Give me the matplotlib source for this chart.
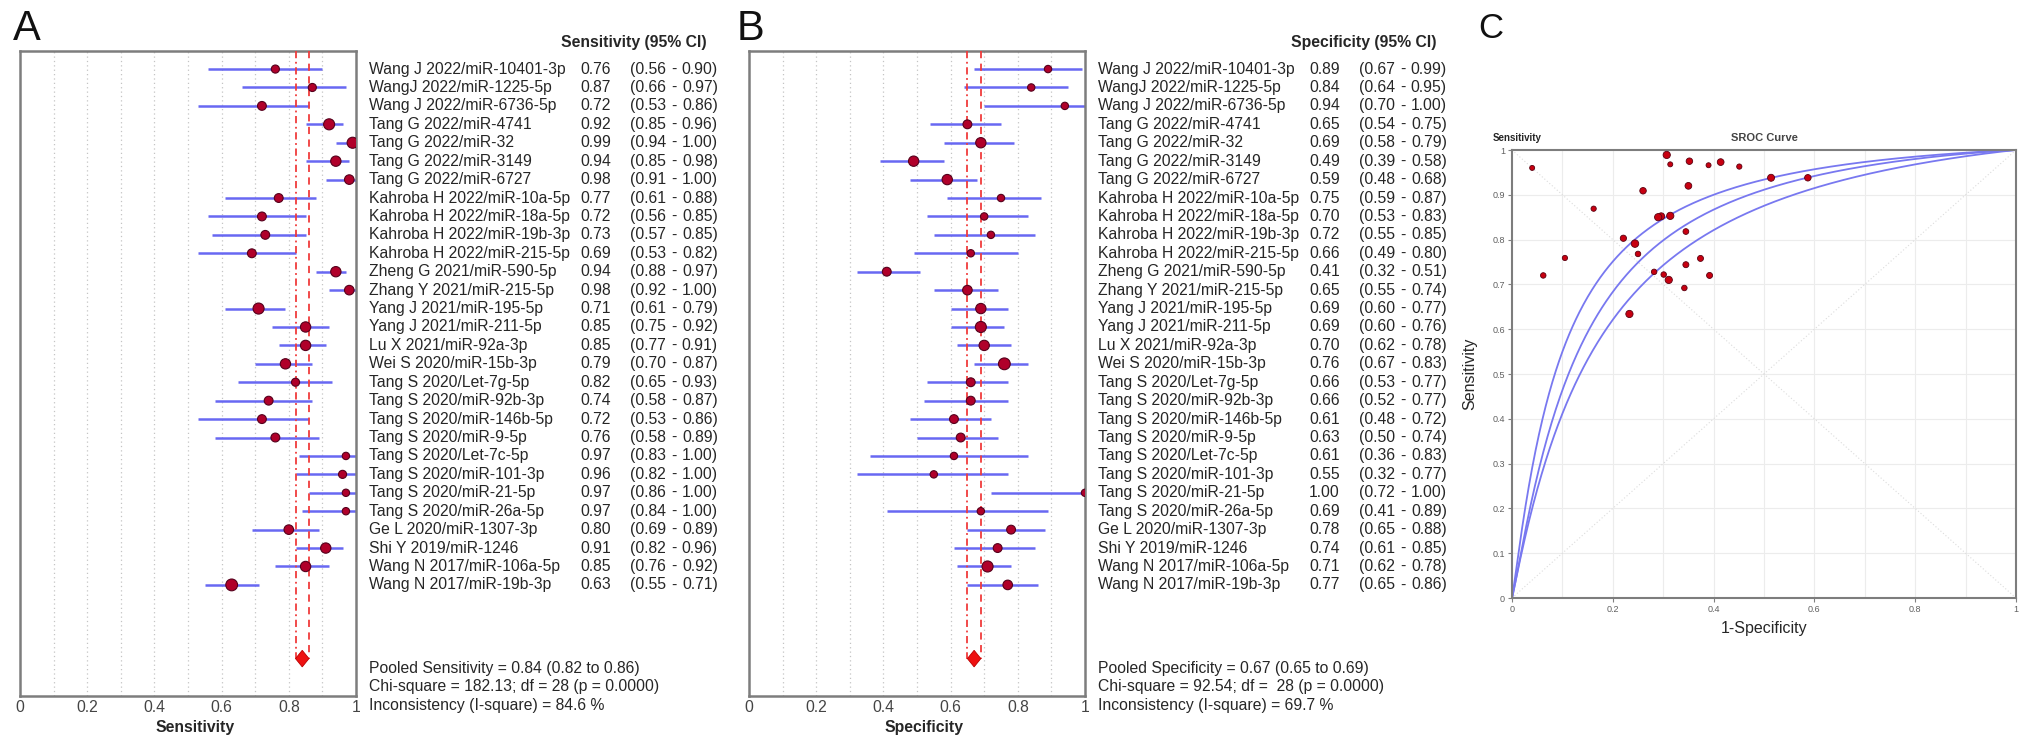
import numpy as np
import matplotlib
matplotlib.use("Agg")
import matplotlib.pyplot as plt

plt.rcParams['font.family'] = ['Liberation Sans', 'DejaVu Sans']

# ---------------- data ----------------
studies = [
    "Wang J 2022/miR-10401-3p", "WangJ 2022/miR-1225-5p", "Wang J 2022/miR-6736-5p",
    "Tang G 2022/miR-4741", "Tang G 2022/miR-32", "Tang G 2022/miR-3149", "Tang G 2022/miR-6727",
    "Kahroba H 2022/miR-10a-5p", "Kahroba H 2022/miR-18a-5p", "Kahroba H 2022/miR-19b-3p",
    "Kahroba H 2022/miR-215-5p", "Zheng G 2021/miR-590-5p", "Zhang Y 2021/miR-215-5p",
    "Yang J 2021/miR-195-5p", "Yang J 2021/miR-211-5p", "Lu X 2021/miR-92a-3p",
    "Wei S 2020/miR-15b-3p", "Tang S 2020/Let-7g-5p", "Tang S 2020/miR-92b-3p",
    "Tang S 2020/miR-146b-5p", "Tang S 2020/miR-9-5p", "Tang S 2020/Let-7c-5p",
    "Tang S 2020/miR-101-3p", "Tang S 2020/miR-21-5p", "Tang S 2020/miR-26a-5p",
    "Ge L 2020/miR-1307-3p", "Shi Y 2019/miR-1246", "Wang N 2017/miR-106a-5p",
    "Wang N 2017/miR-19b-3p",
]

sens = [0.76, 0.87, 0.72, 0.92, 0.99, 0.94, 0.98, 0.77, 0.72, 0.73, 0.69, 0.94, 0.98, 0.71, 0.85,
        0.85, 0.79, 0.82, 0.74, 0.72, 0.76, 0.97, 0.96, 0.97, 0.97, 0.80, 0.91, 0.85, 0.63]
sens_lo = [0.56, 0.66, 0.53, 0.85, 0.94, 0.85, 0.91, 0.61, 0.56, 0.57, 0.53, 0.88, 0.92, 0.61, 0.75,
           0.77, 0.70, 0.65, 0.58, 0.53, 0.58, 0.83, 0.82, 0.86, 0.84, 0.69, 0.82, 0.76, 0.55]
sens_hi = [0.90, 0.97, 0.86, 0.96, 1.00, 0.98, 1.00, 0.88, 0.85, 0.85, 0.82, 0.97, 1.00, 0.79, 0.92,
           0.91, 0.87, 0.93, 0.87, 0.86, 0.89, 1.00, 1.00, 1.00, 1.00, 0.89, 0.96, 0.92, 0.71]
sens_weight = [11, 11, 12, 15, 15, 14, 13, 12, 12, 12, 12, 14, 13, 15, 14, 14, 14, 11, 12, 12, 12,
               10, 11, 10, 10, 13, 14, 14, 16]

spec = [0.89, 0.84, 0.94, 0.65, 0.69, 0.49, 0.59, 0.75, 0.70, 0.72, 0.66, 0.41, 0.65, 0.69, 0.69,
        0.70, 0.76, 0.66, 0.66, 0.61, 0.63, 0.61, 0.55, 1.00, 0.69, 0.78, 0.74, 0.71, 0.77]
spec_lo = [0.67, 0.64, 0.70, 0.54, 0.58, 0.39, 0.48, 0.59, 0.53, 0.55, 0.49, 0.32, 0.55, 0.60, 0.60,
           0.62, 0.67, 0.53, 0.52, 0.48, 0.50, 0.36, 0.32, 0.72, 0.41, 0.65, 0.61, 0.62, 0.65]
spec_hi = [0.99, 0.95, 1.00, 0.75, 0.79, 0.58, 0.68, 0.87, 0.83, 0.85, 0.80, 0.51, 0.74, 0.77, 0.76,
           0.78, 0.83, 0.77, 0.77, 0.72, 0.74, 0.83, 0.77, 1.00, 0.89, 0.88, 0.85, 0.78, 0.86]
spec_weight = [10, 10, 10, 12, 14, 14, 14, 10, 10, 10, 10, 12, 13, 14, 15, 14, 16, 12, 12, 12, 12,
               10, 10, 10, 10, 12, 12, 15, 13]

pooled_sens = (0.84, 0.82, 0.86)
pooled_spec = (0.67, 0.65, 0.69)
stats_sens = ["Pooled Sensitivity = 0.84 (0.82 to 0.86)",
              "Chi-square = 182.13; df = 28 (p = 0.0000)",
              "Inconsistency (I-square) = 84.6 %"]
stats_spec = ["Pooled Specificity = 0.67 (0.65 to 0.69)",
              "Chi-square = 92.54; df =  28 (p = 0.0000)",
              "Inconsistency (I-square) = 69.7 %"]

# SROC panel: study points (1-specificity, sensitivity) as plotted
sroc_fpr = [0.105, 0.162, 0.062, 0.350, 0.307, 0.514, 0.414, 0.250, 0.301, 0.282, 0.342, 0.587,
            0.352, 0.311, 0.314, 0.296, 0.244, 0.345, 0.345, 0.392, 0.374, 0.390, 0.451, 0.040,
            0.314, 0.221, 0.260, 0.290, 0.233]
sroc_tpr = [0.759, 0.869, 0.720, 0.920, 0.989, 0.938, 0.973, 0.768, 0.722, 0.728, 0.692, 0.938,
            0.975, 0.710, 0.853, 0.852, 0.791, 0.818, 0.744, 0.720, 0.758, 0.966, 0.963, 0.960,
            0.968, 0.803, 0.909, 0.850, 0.634]
# SROC curves (upper, central, lower): logit(TPR) = c + m * logit(FPR)
sroc_c = [2.65, 2.33, 1.95]
sroc_m = [1.115, 1.126, 1.05]

# ---------------- styling ----------------
W, H = 2031, 749
TXT = '#262626'
FRAME = '#7d7d7d'
BLUE = '#6868f2'
DOT_FACE = '#b0002a'
DOT_EDGE = '#55001c'
RED = '#f03c3c'
FS = 11.3

fig = plt.figure(figsize=(W / 100, H / 100), dpi=100)


def px_axes(left, top, right, bottom):
    return fig.add_axes([left / W, 1 - bottom / H, (right - left) / W, (bottom - top) / H])


def forest(ax, est, lo, hi, weight, pooled, header, xlabel, stats):
    n = len(est)
    y = np.arange(n)
    p, plo, phi = pooled
    ax.set_xlim(0, 1)
    ax.set_ylim(34.03, -0.98)
    for gx in np.arange(0.1, 1.0, 0.1):
        ax.axvline(gx, color='#c4c4c4', lw=0.9, ls=(0, (1, 2.5)), zorder=1)
    ax.hlines(y, lo, hi, color=BLUE, lw=1.8, zorder=2)
    dia_y = n + 3
    ax.plot([plo, plo], [-0.98, dia_y], color=RED, lw=1.3, ls=(0, (4, 2, 1, 2)), zorder=3)
    ax.plot([phi, phi], [-0.98, dia_y], color=RED, lw=1.3, ls=(0, (4, 3)), zorder=3)
    sizes = (0.53 * np.asarray(weight)) ** 2
    ax.scatter(est, y, s=sizes, c=DOT_FACE, edgecolors=DOT_EDGE, linewidths=0.8, zorder=4)
    ax.fill([plo, p, phi, p], [dia_y, dia_y - 0.45, dia_y, dia_y + 0.45],
            color='#ee1111', ec='#bb0000', lw=0.6, zorder=5)
    ax.set_xticks([0, 0.2, 0.4, 0.6, 0.8, 1.0])
    ax.set_xticklabels(['0', '0.2', '0.4', '0.6', '0.8', '1'])
    ax.tick_params(axis='x', length=0, pad=3, labelsize=FS, labelcolor='#444444')
    ax.set_yticks([])
    for s in ax.spines.values():
        s.set_color(FRAME)
        s.set_linewidth(1.8)
    ax.text(0.52, 35.75, xlabel, ha='center', va='center', fontsize=FS, fontweight='bold',
            color=TXT, clip_on=False)
    for i in range(n):
        ax.text(1.04, i, studies[i], ha='left', va='center', fontsize=FS, color=TXT, clip_on=False)
        ax.text(1.667, i, f"{est[i]:.2f}", ha='left', va='center', fontsize=FS, color=TXT,
                clip_on=False)
        ax.text(1.815, i, f"({lo[i]:.2f}", ha='left', va='center', fontsize=FS, color=TXT,
                clip_on=False)
        ax.text(1.946, i, "-", ha='center', va='center', fontsize=FS, color=TXT, clip_on=False)
        ax.text(2.077, i, f"{hi[i]:.2f})", ha='right', va='center', fontsize=FS, color=TXT,
                clip_on=False)
    ax.text(2.045, -1.42, header, ha='right', va='center', fontsize=FS, fontweight='bold',
            color=TXT, clip_on=False)
    for k, t in enumerate(stats):
        ax.text(1.04, 32.56 + k * 0.98, t, ha='left', va='center', fontsize=FS, color=TXT,
                clip_on=False)


axA = px_axes(20, 51, 356, 696)
forest(axA, sens, sens_lo, sens_hi, sens_weight, pooled_sens, "Sensitivity (95% CI)",
       "Sensitivity", stats_sens)
axB = px_axes(749, 51, 1085, 696)
forest(axB, spec, spec_lo, spec_hi, spec_weight, pooled_spec, "Specificity (95% CI)",
       "Specificity", stats_spec)

# ---------------- SROC panel ----------------
axC = px_axes(1512, 150, 2016, 598)
axC.set_xlim(0, 1)
axC.set_ylim(0, 1)
for g in np.arange(0.1, 1.0, 0.1):
    axC.axvline(g, color='#ececec', lw=0.8, zorder=0)
    axC.axhline(g, color='#ececec', lw=0.8, zorder=0)
axC.plot([0, 1], [0, 1], color='#dcdcdc', lw=0.8, ls=(0, (1, 2)), zorder=1)
axC.plot([0, 1], [1, 0], color='#dcdcdc', lw=0.8, ls=(0, (1, 2)), zorder=1)
f = np.linspace(1e-4, 1 - 1e-4, 600)
lf = np.log(f / (1 - f))
for c, m in zip(sroc_c, sroc_m):
    t = 1 / (1 + np.exp(-(c + m * lf)))
    axC.plot(np.r_[0, f, 1], np.r_[0, t, 1], color='#7878f0', lw=1.3, zorder=2)
wc = (np.asarray(sens_weight) + np.asarray(spec_weight)) / 2
axC.scatter(sroc_fpr, sroc_tpr, s=(0.36 * wc) ** 2, c='#c80010', edgecolors='#5a0010',
            linewidths=0.6, zorder=3)
axC.set_xticks([0, 0.2, 0.4, 0.6, 0.8, 1.0])
axC.set_xticklabels(['0', '0.2', '0.4', '0.6', '0.8', '1'])
axC.set_yticks(np.round(np.arange(0, 1.01, 0.1), 1))
axC.set_yticklabels(['0'] + [f"{v:.1f}" for v in np.arange(0.1, 1.0, 0.1)] + ['1'])
axC.tick_params(axis='both', labelsize=6.5, labelcolor='#606060', color='#808080',
                length=3, width=0.8, pad=2)
for s in axC.spines.values():
    s.set_color(FRAME)
    s.set_linewidth(1.5)
axC.text(0.01, 1.027, "Sensitivity", transform=axC.transAxes, ha='center', va='center',
         fontsize=7, fontweight='bold', color=TXT)
axC.text(0.5, 1.027, "SROC Curve", transform=axC.transAxes, ha='center', va='center',
         fontsize=8, fontweight='bold', color='#444444')
axC.text(-0.083, 0.5, "Sensitivity", transform=axC.transAxes, ha='center', va='center',
         rotation=90, fontsize=11.5, color=TXT)
axC.text(0.5, -0.067, "1-Specificity", transform=axC.transAxes, ha='center', va='center',
         fontsize=11.5, color=TXT)

# panel letters
fig.text(13 / W, 1 - 9 / H, "A", ha='left', va='top', fontsize=30, color='#111111')
fig.text(737 / W, 1 - 9 / H, "B", ha='left', va='top', fontsize=30, color='#111111')
fig.text(1478 / W, 1 - 12 / H, "C", ha='left', va='top', fontsize=25, color='#111111')

fig.savefig("out.png", dpi=100, facecolor='white')
